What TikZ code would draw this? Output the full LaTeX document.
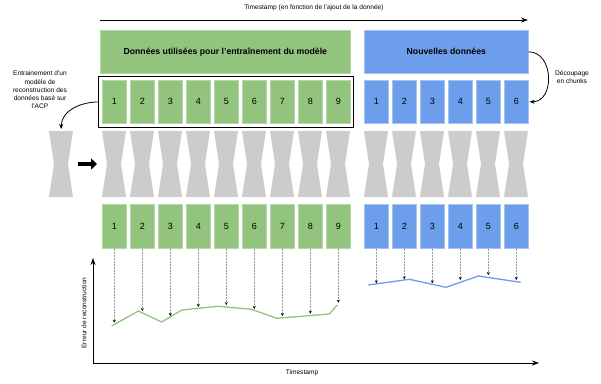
\documentclass[tikz,border=0pt]{standalone}
\usepackage{fontspec}
\setmainfont{Liberation Sans}
\usetikzlibrary{arrows.meta}
\definecolor{gfill}{HTML}{93C47D}
\definecolor{gline}{HTML}{B6D7A8}
\definecolor{bfill}{HTML}{6D9EEB}
\definecolor{bline}{HTML}{A4C2F4}
\definecolor{hg}{HTML}{CCCCCC}
\begin{document}
\begin{tikzpicture}[x=1pt,y=-1pt,
  gchunk/.style={anchor=north west, fill=gfill, draw=gline, line width=0.6pt, minimum width=24pt, inner sep=0pt, font=\fontsize{9}{10}\selectfont},
  bchunk/.style={gchunk, fill=bfill, draw=bline},
  header/.style={anchor=north west, minimum height=43pt, inner sep=0pt, font=\bfseries\fontsize{8.7}{10}\selectfont},
  small/.style={font=\fontsize{6.6}{8.3}\selectfont, align=center, inner sep=0pt},
  probe/.style={densely dotted, gray!80, line width=0.5pt, -{Stealth[length=3pt,width=3pt,black]}},
  axis/.style={line width=1pt, -{Stealth[length=7pt,width=5pt]}},
  hourglass/.style={fill=hg}
]
\useasboundingbox (0,0) rectangle (601,383);

% top time axis
\coordinate (ta) at (100,20);
\coordinate (tb) at (528,20);
\draw[axis] (ta) -- (tb);
\node[small] (tlabel) at (314,8) {Timestamp (en fonction de l'ajout de la donnée)};

% headers
\node[header, fill=gfill, draw=gline, line width=0.6pt, minimum width=250pt] (gh) at (100,30) {Données utilisées pour l'entraînement du modèle};
\node[header, fill=bfill, draw=bline, line width=0.6pt, minimum width=164pt] (bh) at (364,30) {Nouvelles données};

% training frame
\node[anchor=north west, draw=black, line width=1pt, minimum width=255pt, minimum height=51pt, inner sep=0pt] (frame) at (98,76) {};

% chunks rows
\foreach \i in {1,...,9}{
  \pgfmathsetmacro{\xx}{102+28*(\i-1)}
  \node[gchunk, minimum height=43pt] (g1-\i) at (\xx,80) {\i};
  \node[gchunk, minimum height=44pt] (g2-\i) at (\xx,204) {\i};
  \fill[hourglass] (\xx,131) -- ++(24,0) -- ++(-5,33) -- ++(5,33) -- ++(-24,0) -- ++(5,-33) -- cycle;
}
\foreach \i in {1,...,6}{
  \pgfmathsetmacro{\xx}{364+28*(\i-1)}
  \node[bchunk, minimum height=43pt] (b1-\i) at (\xx,80) {\i};
  \node[bchunk, minimum height=44pt] (b2-\i) at (\xx,204) {\i};
  \fill[hourglass] (\xx,131) -- ++(24,0) -- ++(-5,33) -- ++(5,33) -- ++(-24,0) -- ++(5,-33) -- cycle;
}

% standalone model
\node[anchor=north west, minimum width=24pt, minimum height=66pt, inner sep=0pt] (hgL) at (49,131) {};
\fill[hourglass] (49,131) -- ++(24,0) -- ++(-5,33) -- ++(5,33) -- ++(-24,0) -- ++(5,-33) -- cycle;
\coordinate (ba) at (78,164);
\coordinate (bb) at (97,164);
\draw[line width=4.5pt, -{Triangle[length=6pt,width=11pt]}] (ba) -- (bb);

% curved arrows
\draw[line width=0.8pt, -{Stealth[length=5pt,width=4pt]}] (frame.west) to[out=180,in=90] ([yshift=2pt]hgL.north);
\draw[line width=0.8pt, -{Stealth[length=5pt,width=4pt]}] (bh.east) to[out=0,in=0,looseness=1.3] ([xshift=1pt]b1-6.east);

\node[small] (lefttext) at (40,90) {Entrainement d'un\\modèle de\\reconstruction des\\données basé sur\\l'ACP};
\node[small] (righttext) at (572,77) {Découpage\\en chunks};

% error curves
\draw[gfill, line width=1.3pt, line join=round]
  (111.7,326) -- (138.3,311) -- (161.7,322) -- (181.7,310) -- (218.3,306.3) -- (251.7,309.3) -- (276.7,318.3) -- (329.3,314) -- (337.3,305);
\draw[bfill, line width=1.3pt, line join=round]
  (368.3,285) -- (409.3,279.3) -- (446,287.3) -- (478.3,276) -- (520.7,282.3);

\foreach \i/\ty in {1/322.7,2/311,3/316,4/307,5/305,6/309,7/316,8/313.7,9/302.7}{
  \draw[probe] (g2-\i.south) -- (g2-\i.south |- 0,\ty);
}
\foreach \i/\ty in {1/283.3,2/279.3,3/283.3,4/280,5/275,6/280}{
  \draw[probe] (b2-\i.south) -- (b2-\i.south |- 0,\ty);
}

% axes
\coordinate (o) at (93,363);
\coordinate (yend) at (93,258);
\coordinate (xend) at (539,363);
\draw[axis] (o) -- (yend);
\draw[axis] (o) -- (xend);
\node[small] (xlabel) at (302,373) {Timestamp};
\node[small, rotate=90] (ylabel) at (84,313) {Erreur de reconstruction};
\end{tikzpicture}
\end{document}
